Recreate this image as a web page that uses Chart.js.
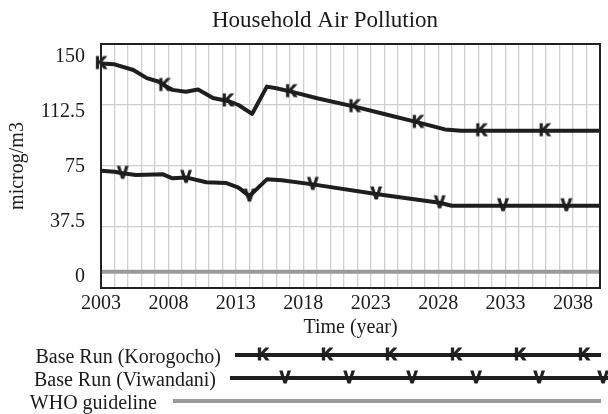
<!DOCTYPE html>
<html>
<head>
<meta charset="utf-8">
<script src="https://cdn.jsdelivr.net/npm/chart.js@4/dist/chart.umd.min.js"></script>
<style>
html,body{margin:0;padding:0;background:#fff;}
#wrap{width:608px;height:414px;position:relative;}
</style>
</head>
<body>
<div id="wrap"><canvas id="c" width="608" height="414"></canvas></div>
<script>
// ---- data ----
const titleText = 'Household Air Pollution';
const xAxisTitle = 'Time (year)';
const yAxisTitle = 'microg/m3';
const seriesNames = ['Base Run (Korogocho)', 'Base Run (Viwandani)', 'WHO guideline'];
const yTickValues = [0, 37.5, 75, 112.5, 150];
const xTickLabelYears = [2003, 2008, 2013, 2018, 2023, 2028, 2033, 2038];

const korYears  = [2003, 2004.0, 2005.4, 2006.4, 2007.3, 2007.7, 2008.3, 2009.3, 2010.2, 2011.3, 2012.4, 2013.2, 2014.2, 2015.3, 2016.0, 2017.1, 2019.1, 2021.8, 2024.0, 2026.5, 2028.5, 2029.7, 2031.2, 2035.9, 2040];
const korValues = [138, 137.5, 134, 129, 126.8, 124.5, 121.8, 120.7, 122.0, 116.8, 115.0, 112.5, 107.0, 123.8, 122.8, 120.7, 116.5, 111.5, 107.0, 101.8, 97.5, 96.7, 96.7, 96.7, 96.7];
const korMarkerYears = [2003, 2007.7, 2012.4, 2017.1, 2021.8, 2026.5, 2031.2, 2035.9];

const viwYears  = [2003, 2004.0, 2004.6, 2005.6, 2007.6, 2008.3, 2009.3, 2010.8, 2012.3, 2013.2, 2014.0, 2015.3, 2016.4, 2018.7, 2023.4, 2028.1, 2029.0, 2032.8, 2037.5, 2040];
const viwValues = [72.1, 71.5, 70.5, 69.5, 69.9, 67.4, 68.0, 65.0, 64.5, 61.7, 56.5, 66.8, 66.2, 63.7, 57.8, 52.4, 50.6, 50.6, 50.6, 50.6];
const viwMarkerYears = [2004.6, 2009.3, 2014.0, 2018.7, 2023.4, 2028.1, 2032.8, 2037.5];

const whoYears  = [2003, 2040];
const whoValues = [10, 10];

// ---- styling ----
const FONT = '"Liberation Serif", "Times New Roman", serif';
const TEXT = '#1a1a1a';
const LINE = '#1e1e1e';
const GREY = '#9a9a9a';
const GRID = '#cfcfcf';

function letterMarker(ch) {
  const c = document.createElement('canvas');
  c.width = 18; c.height = 18;
  const g = c.getContext('2d');
  g.fillStyle = LINE;
  g.strokeStyle = LINE;
  g.lineWidth = 1;
  g.lineJoin = 'miter';
  g.font = 'bold 16px "Liberation Sans", Arial, sans-serif';
  g.textAlign = 'center';
  g.textBaseline = 'middle';
  g.fillText(ch, 9, 10);
  g.strokeText(ch, 9, 10);
  return c;
}
const kMark = letterMarker('K');
const vMark = letterMarker('V');

const toXY = (xs, ys) => xs.map((x, i) => ({x: x, y: ys[i]}));
const korSet = new Set(korMarkerYears);
const viwSet = new Set(viwMarkerYears);

const yearTicks = [];
for (let y = 2003; y <= 2040; y++) yearTicks.push(y);

const frameAndLegend = {
  id: 'frameAndLegend',
  afterDraw(chart) {
    const ctx = chart.ctx;
    const a = chart.chartArea;
    ctx.save();
    // plot frame
    ctx.strokeStyle = '#222';
    ctx.lineWidth = 2;
    ctx.strokeRect(a.left, a.top, a.right - a.left, a.bottom - a.top);
    // title
    ctx.fillStyle = TEXT;
    ctx.font = '23px ' + FONT;
    ctx.textAlign = 'center';
    ctx.textBaseline = 'alphabetic';
    ctx.fillText(titleText, 325, 27);
    // legend
    const rows = [
      {text: seriesNames[0], textRight: 221, x0: 235, x1: 601, y: 355, color: LINE, mark: kMark, m0: 263, step: 64.2},
      {text: seriesNames[1], textRight: 216, x0: 230, x1: 608, y: 378, color: LINE, mark: vMark, m0: 285, step: 63.5},
      {text: seriesNames[2], textRight: 157, x0: 173, x1: 601, y: 401, color: GREY, mark: null}
    ];
    ctx.font = '20px ' + FONT;
    ctx.textAlign = 'right';
    rows.forEach(r => {
      ctx.fillStyle = TEXT;
      ctx.fillText(r.text, r.textRight, r.y + 8);
      ctx.strokeStyle = r.color;
      ctx.lineWidth = 4;
      ctx.beginPath();
      ctx.moveTo(r.x0, r.y);
      ctx.lineTo(r.x1, r.y);
      ctx.stroke();
      if (r.mark) {
        for (let mx = r.m0; mx < 612; mx += r.step) {
          ctx.drawImage(r.mark, Math.round(mx - 9), r.y - 9);
        }
      }
    });
    ctx.restore();
  }
};

new Chart(document.getElementById('c'), {
  type: 'line',
  data: {
    datasets: [
      {
        label: seriesNames[2],
        data: toXY(whoYears, whoValues),
        borderColor: GREY,
        borderWidth: 4,
        pointRadius: 0,
        tension: 0
      },
      {
        label: seriesNames[1],
        data: toXY(viwYears, viwValues),
        borderColor: LINE,
        borderWidth: 4,
        borderJoinStyle: 'round',
        tension: 0,
        clip: false,
        pointStyle: ctx => viwSet.has(ctx.raw && ctx.raw.x) ? vMark : false,
        pointRadius: ctx => viwSet.has(ctx.raw && ctx.raw.x) ? 4 : 0
      },
      {
        label: seriesNames[0],
        data: toXY(korYears, korValues),
        borderColor: LINE,
        borderWidth: 4,
        borderJoinStyle: 'round',
        tension: 0,
        clip: false,
        pointStyle: ctx => korSet.has(ctx.raw && ctx.raw.x) ? kMark : false,
        pointRadius: ctx => korSet.has(ctx.raw && ctx.raw.x) ? 4 : 0
      }
    ]
  },
  options: {
    responsive: false,
    animation: false,
    events: [],
    layout: {padding: {left: 0, right: 4, top: 44, bottom: 74}},
    plugins: {
      legend: {display: false},
      title: {display: false},
      tooltip: {enabled: false}
    },
    scales: {
      x: {
        type: 'linear',
        min: 2003,
        max: 2040,
        afterBuildTicks: ax => { ax.ticks = yearTicks.map(v => ({value: v})); },
        afterFit: ax => { ax.height = 52; },
        ticks: {
          autoSkip: false,
          maxRotation: 0,
          padding: 4,
          color: TEXT,
          font: {family: FONT, size: 20},
          callback: v => xTickLabelYears.includes(v) ? String(v) : ''
        },
        grid: {color: GRID, lineWidth: 1.3, drawTicks: false},
        border: {display: false},
        title: {display: true, text: xAxisTitle, color: TEXT, font: {family: FONT, size: 20}, padding: 0}
      },
      y: {
        type: 'linear',
        position: 'left',
        min: 0,
        max: 150,
        afterBuildTicks: ax => { ax.ticks = yTickValues.map(v => ({value: v})); },
        afterFit: ax => { ax.width = 0; },
        ticks: {display: false},
        grid: {color: GRID, lineWidth: 1.3, drawTicks: false},
        border: {display: false}
      },
      yLabels: {
        type: 'linear',
        position: 'left',
        min: -7.5,
        max: 158.86,
        afterBuildTicks: ax => { ax.ticks = yTickValues.map(v => ({value: v})); },
        afterFit: ax => { ax.width = 101; },
        ticks: {
          padding: 16,
          color: TEXT,
          font: {family: FONT, size: 20},
          callback: v => String(v)
        },
        grid: {display: false, drawTicks: false},
        border: {display: false},
        title: {display: true, text: yAxisTitle, color: TEXT, font: {family: FONT, size: 20}, padding: {top: 6, bottom: 0}}
      }
    }
  },
  plugins: [frameAndLegend]
});
</script>
</body>
</html>
